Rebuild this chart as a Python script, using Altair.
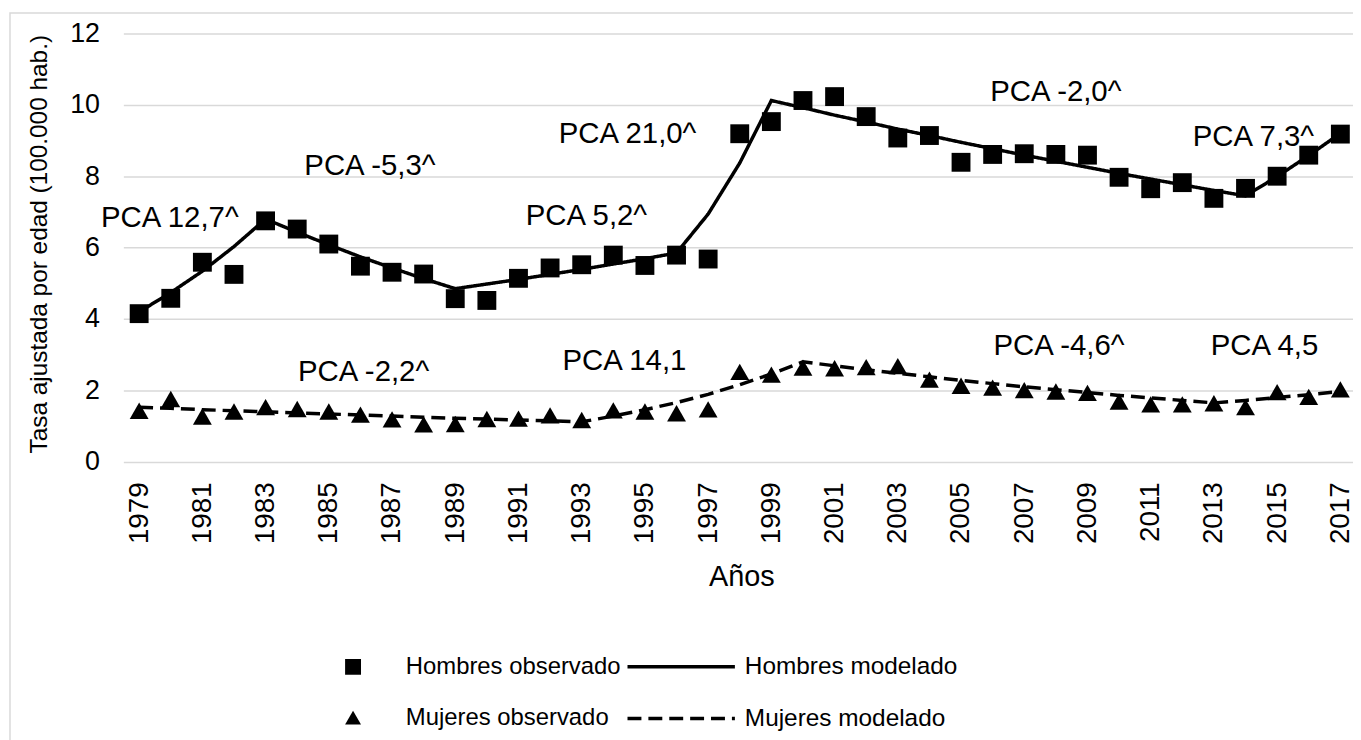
import altair as alt
import pandas as pd

years = list(range(1979, 2018))

hombres_obs = [4.15, 4.58, 5.59, 5.25, 6.75, 6.52, 6.10, 5.48, 5.31, 5.26,
               4.57, 4.52, 5.14, 5.43, 5.52, 5.79, 5.50, 5.79, 5.68, 9.19,
               9.53, 10.12, 10.23, 9.67, 9.07, 9.14, 8.39, 8.61, 8.63, 8.61,
               8.59, 7.97, 7.65, 7.82, 7.38, 7.66, 8.00, 8.59, 9.18]
hombres_mod = [4.20, 4.74, 5.34, 6.03, 6.80, 6.43, 6.08, 5.74, 5.43, 5.13,
               4.85, 4.98, 5.11, 5.25, 5.39, 5.54, 5.69, 5.85, 6.94, 8.37,
               10.12, 9.92, 9.71, 9.52, 9.32, 9.14, 8.95, 8.77, 8.59, 8.42,
               8.25, 8.08, 7.92, 7.76, 7.60, 7.45, 7.99, 8.58, 9.20]
mujeres_obs = [1.43, 1.76, 1.27, 1.41, 1.53, 1.48, 1.41, 1.32, 1.19, 1.05,
               1.06, 1.20, 1.21, 1.30, 1.17, 1.44, 1.41, 1.36, 1.47, 2.52,
               2.44, 2.64, 2.62, 2.65, 2.68, 2.30, 2.13, 2.08, 2.01, 1.97,
               1.93, 1.69, 1.61, 1.61, 1.64, 1.53, 1.95, 1.82, 2.03]
mujeres_mod = [1.53, 1.50, 1.46, 1.43, 1.40, 1.37, 1.34, 1.31, 1.28, 1.25,
               1.22, 1.20, 1.17, 1.15, 1.12, 1.28, 1.46, 1.66, 1.89, 2.16,
               2.46, 2.80, 2.69, 2.58, 2.48, 2.38, 2.28, 2.19, 2.10, 2.02,
               1.94, 1.86, 1.79, 1.72, 1.65, 1.72, 1.80, 1.88, 1.97]

obs_series = ["Hombres observado", "Mujeres observado"]
mod_series = ["Hombres modelado", "Mujeres modelado"]

tick_years = list(range(1979, 2018, 2))
y_ticks = [0, 2, 4, 6, 8, 10, 12]

ann_text = ["PCA 12,7^", "PCA -5,3^", "PCA 5,2^", "PCA 21,0^", "PCA -2,0^",
            "PCA 7,3^", "PCA -2,2^", "PCA 14,1", "PCA -4,6^", "PCA 4,5"]
ann_year = [1979.97, 1986.3, 1993.15, 1994.45, 2008.0,
            2014.25, 1986.1, 1994.35, 2008.1, 2014.6]
ann_value = [6.58, 8.04, 6.64, 8.94, 10.11,
             8.85, 2.25, 2.56, 3.00, 2.98]

n = len(years)
obs = pd.DataFrame({
    "year": years * 2,
    "value": hombres_obs + mujeres_obs,
    "obs_serie": [obs_series[0]] * n + [obs_series[1]] * n,
})
mod = pd.DataFrame({
    "year": years * 2,
    "value": hombres_mod + mujeres_mod,
    "mod_serie": [mod_series[0]] * n + [mod_series[1]] * n,
})
ann = pd.DataFrame({"year": ann_year, "value": ann_value, "text": ann_text})

W = 1236.6
H = 430.8
FONT = "Liberation Sans"

x_scale = alt.Scale(domain=[1978.5, 2017.4], nice=False, zero=False)
y_scale = alt.Scale(domain=[0, 12], nice=False, zero=True)

x_axis = alt.Axis(values=tick_years, format="d", labelAngle=270, labelFontSize=28,
                  labelPadding=20, labelColor="black", ticks=False, domain=False,
                  grid=False, title="Años", titleFontSize=29, titleFontWeight="normal",
                  titleColor="black", titleX=621.5, titleY=124.4,
                  titleBaseline="alphabetic", titleAlign="center", labelOverlap=False)
y_axis = alt.Axis(values=y_ticks, labelFontSize=27, labelPadding=24, labelColor="black",
                  ticks=False, domain=False, grid=True, gridColor="#d9d9d9", gridWidth=1.5,
                  title="Tasa ajustada por edad (100.000 hab.)", titleFontSize=24.5,
                  titleFontWeight="normal", titleColor="black", titleAngle=270,
                  titleX=-77, titleY=211.5, titleBaseline="alphabetic", titleAlign="center")

border = alt.Chart(alt.Data(values=[{}])).mark_rect(
    fill=None, stroke="#d9d9d9", strokeWidth=1.5
).encode(
    x=alt.value(-114), x2=alt.value(W + 100),
    y=alt.value(-20.5), y2=alt.value(H + 400),
)

lines = alt.Chart(mod).mark_line(color="black", strokeWidth=3.5).encode(
    x=alt.X("year:Q", scale=x_scale, axis=x_axis),
    y=alt.Y("value:Q", scale=y_scale, axis=y_axis),
    strokeDash=alt.StrokeDash(
        "mod_serie:N",
        scale=alt.Scale(domain=mod_series, range=[[1, 0], [14, 7]]),
        legend=alt.Legend(orient="none", legendX=505, legendY=625, title=None,
                          labelFontSize=24.5, labelColor="black", labelLimit=500,
                          symbolType="stroke", symbolSize=11664, symbolStrokeWidth=3.5,
                          symbolStrokeColor="black", labelOffset=8, rowPadding=27,
                          clipHeight=24, padding=0, direction="vertical"),
    ),
)

points = alt.Chart(obs).mark_point(filled=True, color="black", opacity=1, size=360).encode(
    x=alt.X("year:Q", scale=x_scale),
    y=alt.Y("value:Q", scale=y_scale),
    shape=alt.Shape(
        "obs_serie:N",
        scale=alt.Scale(domain=obs_series, range=["square", "triangle-up"]),
        legend=alt.Legend(orient="none", legendX=219, legendY=625, title=None,
                          labelFontSize=24, labelColor="black", labelLimit=500,
                          symbolSize=256, symbolFillColor="black",
                          symbolStrokeColor="black", symbolStrokeWidth=0,
                          labelOffset=41, rowPadding=27, clipHeight=24, padding=0,
                          direction="vertical", symbolOpacity=1),
    ),
)

labels = alt.Chart(ann).mark_text(
    font=FONT, fontSize=29.5, color="black", align="center", baseline="alphabetic"
).encode(
    x=alt.X("year:Q", scale=x_scale),
    y=alt.Y("value:Q", scale=y_scale),
    text="text:N",
)

chart = alt.layer(border, lines, points, labels).properties(
    width=W, height=H,
    autosize=alt.AutoSizeParams(type="none"),
    padding={"left": 116, "top": 23.5, "right": 0, "bottom": 277.7},
).configure(font=FONT).configure_view(stroke=None).configure_legend(
    labelFont=FONT
)

chart.save("out.html", embed_options={"renderer": "svg", "actions": False})
